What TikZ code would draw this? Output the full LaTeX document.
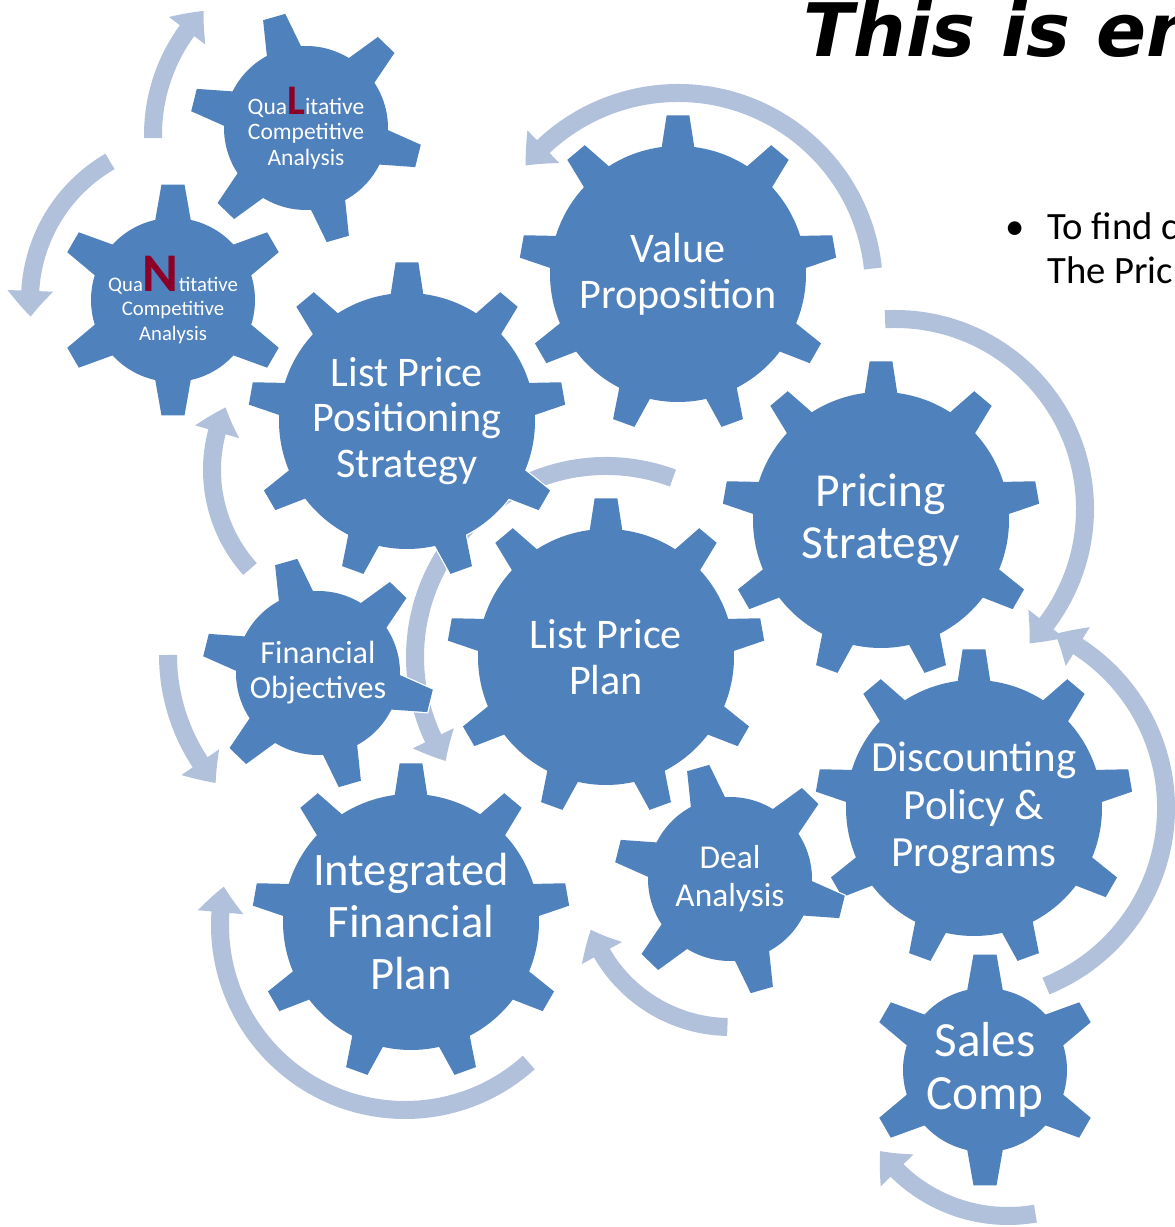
\documentclass[tikz,border=0pt]{standalone}
\usepackage{fontspec}
\setmainfont{Carlito}
\newfontfamily\titlefont{DejaVu Sans}
\usepackage{xcolor}
\usetikzlibrary{arrows.meta,bending}

\definecolor{cogblue}{RGB}{79,129,189}
\definecolor{flowblue}{RGB}{177,193,220}
\definecolor{letterred}{RGB}{140,0,40}

\newcommand{\bigletter}[2]{{\color{letterred}\fontsize{#1}{#1}\bfseries #2}}

\tikzset{
  pics/cog/.style n args={6}{code={
    % #1 teeth, #2 angle of first tooth, #3 root radius, #4 tip radius,
    % #5 half angle at root, #6 half angle at tip
    \path[cog fill] (#2-#5:#3)
      \foreach \k [evaluate=\k as \a using #2+(\k-1)*360/#1] in {1,...,#1}{
        -- (\a-#5:#3) -- (\a-#6:#4) -- (\a+#6:#4) -- (\a+#5:#3)
        arc[start angle=\a+#5, end angle=\a+360/#1-#5, radius=#3]
      } -- cycle;
  }},
  cog fill/.style={fill=cogblue, preaction={draw=white, line width=0.05cm}},
  flow/.style={draw=flowblue, line width=0.36cm,
    -{Triangle[length=0.52cm, width=0.88cm, bend]}},
  cog text/.style={text=white, align=center, inner sep=0pt},
}

\begin{document}
\begin{tikzpicture}[x=0.02cm,y=0.02cm]
\useasboundingbox (0,0) rectangle (1175,1227);
\clip (0,0) rectangle (1175,1227);

% gear centres
\coordinate (qual)  at (306,1099);
\coordinate (quant) at (173,927);
\coordinate (lpps)  at (407,806);
\coordinate (vp)    at (678,953);
\coordinate (ps)    at (881,707);
\coordinate (lpp)   at (606,570);
\coordinate (fo)    at (318,554);
\coordinate (ifp)   at (411,305);
\coordinate (da)    at (730,348);
\coordinate (dpp)   at (974,419);
\coordinate (sc)    at (985,157);

% centres of the arrow arcs
\coordinate (a1)  at (330,1092);
\coordinate (a2)  at (190,927);
\coordinate (a3)  at (360,757);
\coordinate (a6)  at (363,572);
\coordinate (a7)  at (405,302);
\coordinate (a9)  at (1008,169);
\coordinate (a11) at (895,718);
\coordinate (a12) at (678,938);

% arrows, behind the gears
\foreach \c/\r/\s/\e in {a1/177/181/135.5, a2/160/120/186, a3/148/222/155,
    lpp/191/69.5/213, a6/195/180/221, a7/185/-48/-192, da/148/-91/-160,
    a9/158/-80/-144, dpp/192/-68/65, a11/190/93/-45, a12/196/6/141}
  \draw[flow] ([shift={(\s:\r)}]\c) arc[start angle=\s, end angle=\e, radius=\r];

% big gears, nine teeth
\foreach \c in {vp,lpps,ps,lpp,dpp,ifp}
  \pic at (\c) {cog={9}{90}{128}{159}{7.3}{4.1}};
% small gears, six teeth
\foreach \c/\t in {qual/106,quant/90,fo/106,da/106,sc/90}
  \pic at (\c) {cog={6}{\t}{82}{116}{12.5}{5.7}};

% labels
\node[cog text, font=\fontsize{13.4}{14.5}\selectfont] (qual-text) at (qual)
  {Qua\bigletter{24}{L}itative\\Competitive\\Analysis};
\node[cog text, font=\fontsize{11.8}{14}\selectfont] (quant-text) at (quant)
  {Qua\bigletter{31}{N}titative\\Competitive\\Analysis};
\node[cog text, font=\fontsize{24}{26}\selectfont] (vp-text) at (vp) {Value\\Proposition};
\node[cog text, font=\fontsize{24}{26}\selectfont] (lpps-text) at (lpps) {List Price\\Positioning\\Strategy};
\node[cog text, font=\fontsize{27}{29.6}\selectfont] (ps-text) at (ps) {Pricing\\Strategy};
\node[cog text, font=\fontsize{24}{26}\selectfont] (lpp-text) at (lpp) {List Price\\Plan};
\node[cog text, font=\fontsize{18.3}{20}\selectfont] (fo-text) at (fo) {Financial\\Objectives};
\node[cog text, font=\fontsize{24.5}{27}\selectfont] (dpp-text) at (dpp) {Discounting\\Policy \&\\Programs};
\node[cog text, font=\fontsize{26.5}{29.6}\selectfont] (ifp-text) at (ifp) {Integrated\\Financial\\Plan};
\node[cog text, font=\fontsize{19}{21.6}\selectfont] (da-text) at (da) {Deal\\Analysis};
\node[cog text, font=\fontsize{28}{30}\selectfont] (sc-text) at (sc) {Sales\\Comp};

% title and bullet, cut off at the right edge
\node[anchor=base west, inner sep=0pt, font=\fontsize{42}{42}\titlefont\bfseries\itshape] (title) at (803,1170) {This is en};
\node[anchor=base, inner sep=0pt, font=\fontsize{22}{26}\selectfont] (dot) at (1015,987) {\textbullet};
\node[anchor=base west, inner sep=0pt, font=\fontsize{22}{26}\selectfont] (goal) at (1047,987) {To find c};
\node[anchor=base west, inner sep=0pt, font=\fontsize{22}{26}\selectfont] (goal2) at (1047,943) {The Prici};
\end{tikzpicture}
\end{document}
